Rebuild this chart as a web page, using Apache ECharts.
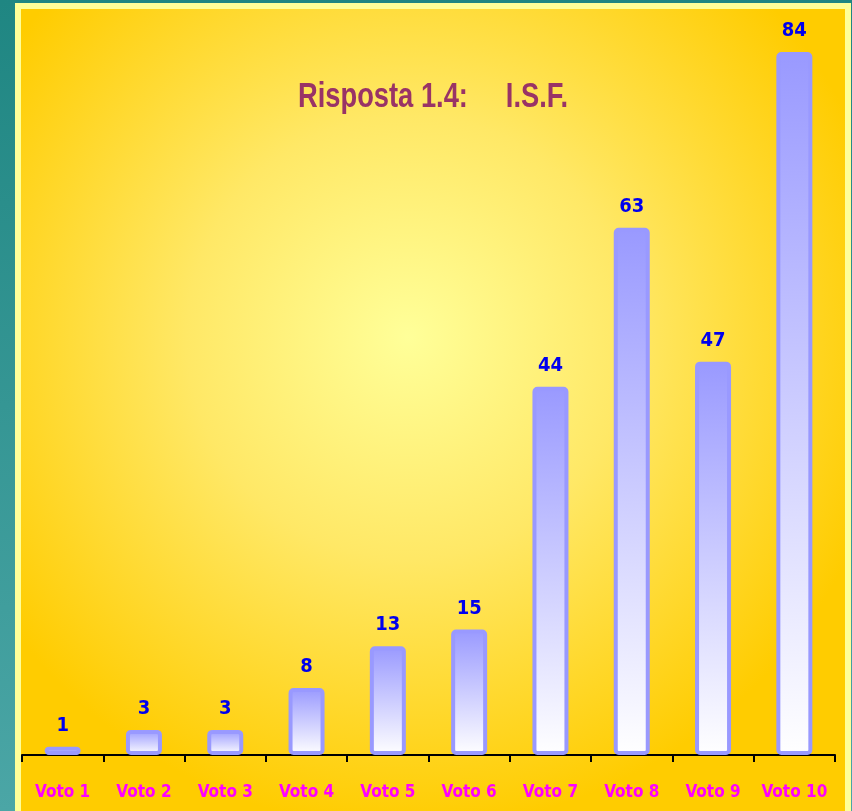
<!DOCTYPE html>
<html>
<head>
    <meta charset="utf-8">
    <title>Risposta 1.4</title>
    <script src="https://cdn.jsdelivr.net/npm/echarts@6/dist/echarts.min.js"></script>
    <style type="text/css">
        html, body {
            margin: 0;
            padding: 0;
            background: linear-gradient(to bottom, #1f8682, #4ba6a6);
        }
        #main {
            width: 852px;
            height: 811px;
        }
    </style>
</head>
<body>
<div id="main"></div>
<script type="text/javascript">
    var categories = ['Voto 1', 'Voto 2', 'Voto 3', 'Voto 4', 'Voto 5', 'Voto 6', 'Voto 7', 'Voto 8', 'Voto 9', 'Voto 10'];
    var values = [1, 3, 3, 8, 13, 15, 44, 63, 47, 84];

    var narrow = '"DejaVu Sans Condensed", "Liberation Sans Narrow", sans-serif';
    var chart = echarts.init(document.getElementById('main'));

    chart.setOption({
        animation: false,
        graphic: [
            {
                type: 'rect',
                z: -10,
                shape: {x: 15, y: 3, width: 836, height: 820},
                style: {fill: '#ffff99'}
            },
            {
                type: 'rect',
                z: -9,
                shape: {x: 21, y: 9, width: 824, height: 820},
                style: {
                    fill: new echarts.graphic.RadialGradient(0.47, 0.4, 0.6, [
                        {offset: 0, color: '#ffff99'},
                        {offset: 0.45, color: '#ffe866'},
                        {offset: 1, color: '#ffcc00'}
                    ])
                }
            },
            {
                type: 'text',
                left: 298,
                top: 80,
                scaleX: 0.78,
                style: {
                    text: 'Risposta 1.4:     I.S.F.',
                    fill: '#993366',
                    font: 'bold 35px "Liberation Sans", Arial, sans-serif'
                }
            }
        ],
        grid: {
            left: 22,
            right: 17,
            top: 52,
            bottom: 56
        },
        xAxis: {
            type: 'category',
            data: categories,
            axisLine: {lineStyle: {color: '#000', width: 2}},
            axisTick: {show: true, length: 7, lineStyle: {color: '#000', width: 2}},
            axisLabel: {
                interval: 0,
                color: '#ff00ff',
                fontWeight: 'bold',
                fontSize: 17,
                fontFamily: narrow,
                margin: 29
            }
        },
        yAxis: {
            type: 'value',
            min: 0,
            max: 84,
            show: false,
            splitLine: {show: false}
        },
        series: [{
            type: 'bar',
            data: values,
            barWidth: 36,
            itemStyle: {
                color: new echarts.graphic.LinearGradient(0, 0, 0, 1, [
                    {offset: 0, color: '#9999ff'},
                    {offset: 1, color: '#ffffff'}
                ]),
                borderColor: '#9999ff',
                borderWidth: 4,
                borderRadius: 3
            },
            label: {
                show: true,
                position: 'top',
                distance: 11,
                color: '#0000ee',
                fontWeight: 'bold',
                fontSize: 20,
                fontFamily: narrow
            }
        }]
    });
</script>
</body>
</html>
